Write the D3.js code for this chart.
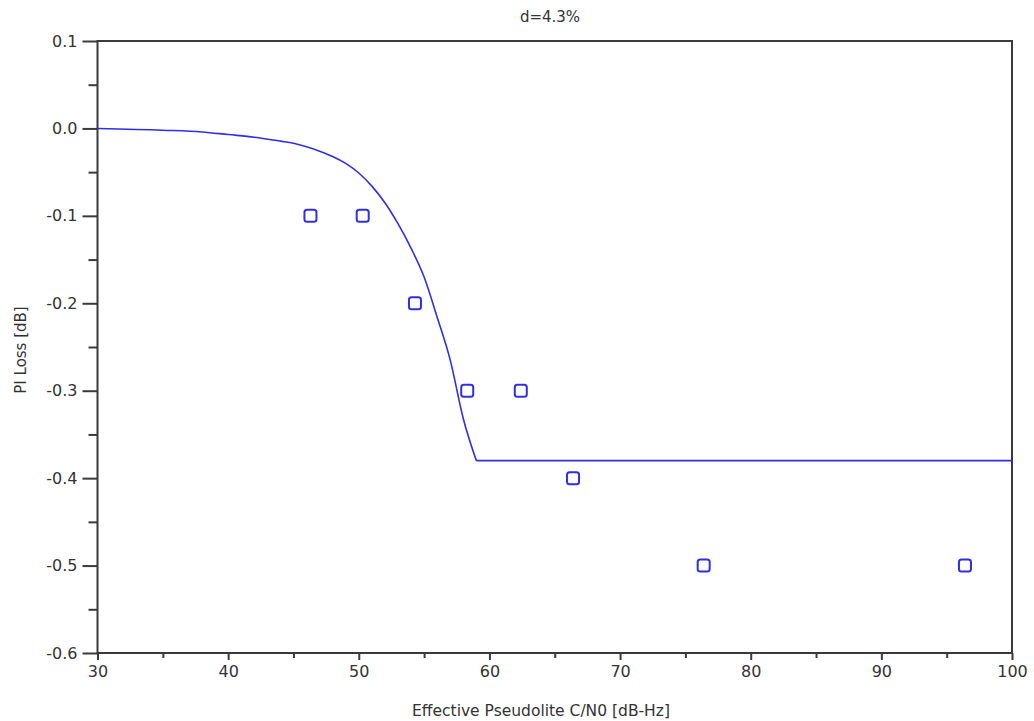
<!DOCTYPE html>
<html>
<head>
<meta charset="utf-8">
<script src="https://cdn.jsdelivr.net/npm/d3@7"></script>
<style>
  html, body { margin: 0; padding: 0; background: #fff; }
  svg { display: block; }
  text { font-family: "DejaVu Sans", sans-serif; fill: #333; }
</style>
</head>
<body>
<svg id="chart" width="1034" height="721"></svg>
<script>
// Model curve: PI loss versus effective pseudolite C/N0 (roll-off, then floor)
const curveCn0  = [30, 35, 38, 40, 42, 44, 45, 46, 47, 48, 49, 50, 51, 52, 53, 54, 55, 56, 57, 58, 59];
const curveLoss = [0.0, -0.002, -0.004, -0.007, -0.010, -0.0145, -0.017, -0.021, -0.026, -0.032, -0.040, -0.051,
                   -0.066, -0.085, -0.109, -0.137, -0.170, -0.216, -0.265, -0.332, -0.38];
const floorCn0  = [59, 100];
const floorLoss = [-0.38, -0.38];

// Measured points
const measCn0  = [46.3, 50.3, 54.3, 58.3, 62.4, 66.4, 76.4, 96.4];
const measLoss = [-0.1, -0.1, -0.2, -0.3, -0.3, -0.4, -0.5, -0.5];

// Axis ticks
const xTicks = [30, 40, 50, 60, 70, 80, 90, 100];
const xMinor = [35, 45, 55, 65, 75, 85, 95];
const yTicks = [0.1, 0.0, -0.1, -0.2, -0.3, -0.4, -0.5, -0.6];
const yMinor = [0.05, -0.05, -0.15, -0.25, -0.35, -0.45, -0.55];

const titleText = "d=4.3%";
const xLabel = "Effective Pseudolite C/N0 [dB-Hz]";
const yLabel = "PI Loss [dB]";

const svg = d3.select("#chart");
const plotLeft = 97.5, plotRight = 1012, plotTop = 41, plotBottom = 653;

const x = d3.scaleLinear().domain([30, 100]).range([plotLeft, plotRight]);
const y = d3.scaleLinear().domain([-0.6, 0.1]).range([plotBottom, plotTop]);

const axisColor = "#3a3a3a";
const blue = "#2f2fe6";
const fmtY = d => d3.format(".1f")(d).replace("−", "-");

// Frame
svg.append("rect")
  .attr("x", plotLeft).attr("y", plotTop)
  .attr("width", plotRight - plotLeft).attr("height", plotBottom - plotTop)
  .attr("fill", "none").attr("stroke", axisColor).attr("stroke-width", 2);

// X axis: major and minor ticks
const gx = svg.append("g").attr("transform", `translate(0,${plotBottom})`);
gx.append("g").attr("class", "major")
  .call(d3.axisBottom(x).tickValues(xTicks).tickSize(7).tickPadding(6).tickFormat(d3.format("d")));
gx.append("g").attr("class", "minor")
  .call(d3.axisBottom(x).tickValues(xMinor).tickSize(5).tickFormat(""));
gx.selectAll(".domain").remove();
gx.selectAll("line").attr("stroke", axisColor).attr("stroke-width", 2);
gx.selectAll(".major text").attr("font-size", 16).attr("font-family", "DejaVu Sans, sans-serif").attr("fill", "#333");

// Y axis: major and minor ticks
const gy = svg.append("g").attr("transform", `translate(${plotLeft},0)`);
gy.append("g").attr("class", "major")
  .call(d3.axisLeft(y).tickValues(yTicks).tickSize(15).tickPadding(5).tickFormat(fmtY));
gy.append("g").attr("class", "minor")
  .call(d3.axisLeft(y).tickValues(yMinor).tickSize(9).tickFormat(""));
gy.selectAll(".domain").remove();
gy.selectAll("line").attr("stroke", axisColor).attr("stroke-width", 2);
gy.selectAll(".major text").attr("font-size", 16).attr("font-family", "DejaVu Sans, sans-serif").attr("fill", "#333");

// Curve: smooth roll-off followed by a flat floor
const rollOff = curveCn0.map((c, i) => [c, curveLoss[i]]);
const floor = floorCn0.map((c, i) => [c, floorLoss[i]]);
svg.append("path")
  .datum(rollOff)
  .attr("fill", "none")
  .attr("stroke", blue)
  .attr("stroke-width", 1.6)
  .attr("d", d3.line().x(d => x(d[0])).y(d => y(d[1])).curve(d3.curveMonotoneX));
svg.append("path")
  .datum(floor)
  .attr("fill", "none")
  .attr("stroke", blue)
  .attr("stroke-width", 1.6)
  .attr("d", d3.line().x(d => x(d[0])).y(d => y(d[1])));

// Measured markers
const ms = 12;
svg.append("g").selectAll("rect")
  .data(measCn0.map((c, i) => [c, measLoss[i]]))
  .join("rect")
  .attr("x", d => x(d[0]) - ms / 2)
  .attr("y", d => y(d[1]) - ms / 2)
  .attr("width", ms).attr("height", ms)
  .attr("rx", 2.5)
  .attr("fill", "none")
  .attr("stroke", blue)
  .attr("stroke-width", 2);

// Titles
svg.append("text")
  .attr("x", 550).attr("y", 22)
  .attr("text-anchor", "middle")
  .attr("font-size", 15)
  .text(titleText);

svg.append("text")
  .attr("x", 541).attr("y", 716)
  .attr("text-anchor", "middle")
  .attr("font-size", 15.5)
  .text(xLabel);

svg.append("text")
  .attr("transform", `translate(26,350) rotate(-90)`)
  .attr("text-anchor", "middle")
  .attr("font-size", 15)
  .text(yLabel);
</script>
</body>
</html>
